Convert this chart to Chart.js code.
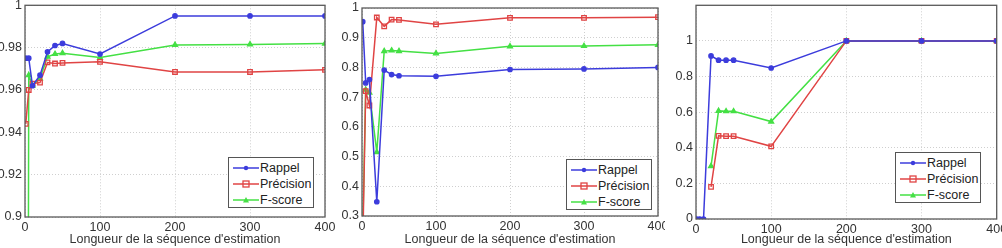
<!DOCTYPE html>
<html>
<head>
<meta charset="utf-8">
<script src="https://cdn.jsdelivr.net/npm/chart.js@4.4.0/dist/chart.umd.min.js"></script>
<style>
  html, body { margin:0; padding:0; background:#fff; width:1002px; height:248px; overflow:hidden; }
  .panel { position:absolute; top:0; }
  .legend { position:absolute; background:#fff; border:1px solid #555; box-sizing:border-box;
            font-family:"Liberation Sans", Arial, sans-serif; font-size:12.5px; color:#222; }
  .legend .row { position:absolute; left:0; height:14px; line-height:14px; white-space:nowrap; }
  .legend svg { position:absolute; left:4px; top:2px; }
  .legend span { position:absolute; left:31px; top:0; }
</style>
</head>
<body>
<script>
// ---------------- data ----------------
const seqLengths = [1, 5, 10, 20, 30, 40, 50, 100, 200, 300, 400];
const seriesNames = ["Rappel", "Précision", "F-score"];
const xTitle = "Longueur de la séquence d'estimation";

// Panel 1
const rappel1    = [0.975, 0.975, 0.962, 0.967, 0.978, 0.981, 0.982, 0.977, 0.995, 0.995, 0.995];
const precision1 = [0.944, 0.960, 0.963, 0.9635, 0.973, 0.9725, 0.9728, 0.9733, 0.9685, 0.9685, 0.9695];
const fscore1    = [0.30, 0.967, 0.962, 0.9655, 0.9757, 0.977, 0.9774, 0.9753, 0.9813, 0.9815, 0.9819];

// Panel 2
const rappel2    = [0.954, 0.748, 0.759, 0.348, 0.791, 0.776, 0.772, 0.770, 0.793, 0.795, 0.800];
const precision2 = [0.20, 0.720, 0.672, 0.968, 0.938, 0.961, 0.960, 0.945, 0.967, 0.967, 0.969];
const fscore2    = [0.25, 0.725, 0.715, 0.515, 0.855, 0.857, 0.855, 0.847, 0.871, 0.872, 0.876];

// Panel 3
const rappel3    = [0, 0, 0, 0.916, 0.892, 0.892, 0.892, 0.848, 1, 1, 1];
const precision3 = [null, null, null, 0.180, 0.467, 0.465, 0.465, 0.408, 1, 1, 1];
const fscore3    = [null, null, null, 0.297, 0.607, 0.605, 0.605, 0.547, 1, 1, 1];

const xTicks = [0, 100, 200, 300, 400];
const yTicks1 = [0.9, 0.92, 0.94, 0.96, 0.98, 1];
const yTicks2 = [0.3, 0.4, 0.5, 0.6, 0.7, 0.8, 0.9, 1];
const yTicks3 = [0, 0.2, 0.4, 0.6, 0.8, 1];

// ---------------- styling ----------------
const COLORS = ["#3c3cdc", "#e04444", "#44e044"];
const FONT = { family: '"Liberation Sans", Arial, sans-serif', size: 12.5 };

const panels = [
  { data:[rappel1, precision1, fscore1], yMin:0.9, yMax:1, yTicks:yTicks1,
    canvasLeft:0, canvasWidth:335, area:{left:25, right:325, top:4, bottom:217},
    legend:{left:228, top:157, width:86, height:51} },
  { data:[rappel2, precision2, fscore2], yMin:0.3, yMax:1, yTicks:yTicks2,
    canvasLeft:335, canvasWidth:330, area:{left:362, right:658, top:8, bottom:216},
    legend:{left:566, top:159, width:86, height:51} },
  { data:[rappel3, precision3, fscore3], yMin:0, yMax:1.2, yTicks:yTicks3,
    canvasLeft:665, canvasWidth:337, area:{left:696, right:997, top:3, bottom:219},
    legend:{left:895, top:152, width:86, height:51} }
];

const markerStyles = [
  { pointStyle:'circle',   pointRadius:2.2, fill:true },
  { pointStyle:'rect',     pointRadius:3.2, fill:false },
  { pointStyle:'triangle', pointRadius:2.8, fill:true }
];

const framePlugin = {
  id:'frame',
  afterDraw(chart) {
    const a = chart.chartArea, ctx = chart.ctx;
    ctx.save();
    ctx.strokeStyle = '#5a5a5a';
    ctx.lineWidth = 1.3;
    ctx.strokeRect(a.left, a.top, a.right - a.left, a.bottom - a.top);
    ctx.restore();
  }
};

function fmt(v) { return String(parseFloat(v.toFixed(2))); }

panels.forEach((p) => {
  const H = 248;
  const div = document.createElement('div');
  div.className = 'panel';
  div.style.left = p.canvasLeft + 'px';
  div.style.width = p.canvasWidth + 'px';
  div.style.height = H + 'px';
  const cv = document.createElement('canvas');
  cv.width = p.canvasWidth; cv.height = H;
  cv.style.width = p.canvasWidth + 'px'; cv.style.height = H + 'px';
  div.appendChild(cv);
  document.body.appendChild(div);

  const yWidth = p.area.left - p.canvasLeft;
  const padRight = p.canvasLeft + p.canvasWidth - p.area.right;
  const xHeight = H - p.area.bottom;

  const datasets = seriesNames.map((name, i) => ({
    label: name,
    data: seqLengths.map((x, k) => ({ x: x, y: p.data[i][k] })),
    borderColor: COLORS[i],
    backgroundColor: COLORS[i],
    borderWidth: 1.5,
    pointStyle: markerStyles[i].pointStyle,
    pointRadius: markerStyles[i].pointRadius,
    pointBorderWidth: 1.3,
    pointBackgroundColor: markerStyles[i].fill ? COLORS[i] : 'rgba(0,0,0,0)',
    pointBorderColor: COLORS[i],
    spanGaps: false,
    tension: 0
  }));

  new Chart(cv, {
    type: 'line',
    data: { datasets },
    options: {
      responsive: false,
      animation: false,
      devicePixelRatio: 1,
      layout: { padding: { top: p.area.top, right: padRight, left: 0, bottom: 0 } },
      plugins: { legend: { display:false }, tooltip: { enabled:false } },
      scales: {
        x: {
          type: 'linear', min: 0, max: 400,
          afterBuildTicks(s) { s.ticks = xTicks.map(v => ({ value: v })); },
          ticks: { color:'#333', font: FONT, padding: 3, maxRotation: 0, autoSkip:false,
                   callback: v => String(v) },
          grid: { color:'#cfcfcf', lineWidth:1, drawTicks:false },
          border: { display:false, dash:[1,2] },
          title: { display:true, text:xTitle, color:'#333', font: FONT, padding:{ top:0, bottom:1 } },
          afterFit(s) { s.height = xHeight; s.paddingLeft = 0; s.paddingRight = 0; }
        },
        y: {
          type: 'linear', min: p.yMin, max: p.yMax,
          afterBuildTicks(s) { s.ticks = p.yTicks.map(v => ({ value: v })); },
          ticks: { color:'#333', font: FONT, padding: 3, autoSkip:false, callback: v => fmt(v) },
          grid: { color:'#cfcfcf', lineWidth:1, drawTicks:false },
          border: { display:false, dash:[1,2] },
          afterFit(s) { s.width = yWidth; s.paddingTop = 0; s.paddingBottom = 0; }
        }
      }
    },
    plugins: [framePlugin]
  });

  // legend (HTML, real text)
  const lg = document.createElement('div');
  lg.className = 'legend';
  lg.style.left = p.legend.left + 'px';
  lg.style.top = p.legend.top + 'px';
  lg.style.width = p.legend.width + 'px';
  lg.style.height = p.legend.height + 'px';
  seriesNames.forEach((name, i) => {
    const row = document.createElement('div');
    row.className = 'row';
    row.style.top = (2.5 + i * 16) + 'px';
    row.style.width = '100%';
    const c = COLORS[i];
    let marker;
    if (i === 0) marker = `<circle cx="13" cy="5" r="2.2" fill="${c}"/>`;
    else if (i === 1) marker = `<rect x="10" y="2" width="6" height="6" fill="none" stroke="${c}" stroke-width="1.3"/>`;
    else marker = `<polygon points="13,2 16,7.5 10,7.5" fill="${c}"/>`;
    row.innerHTML = `<svg width="26" height="10"><line x1="0" y1="5" x2="26" y2="5" stroke="${c}" stroke-width="1.5"/>${marker}</svg><span>${name}</span>`;
    lg.appendChild(row);
  });
  document.body.appendChild(lg);
});
</script>
</body>
</html>
